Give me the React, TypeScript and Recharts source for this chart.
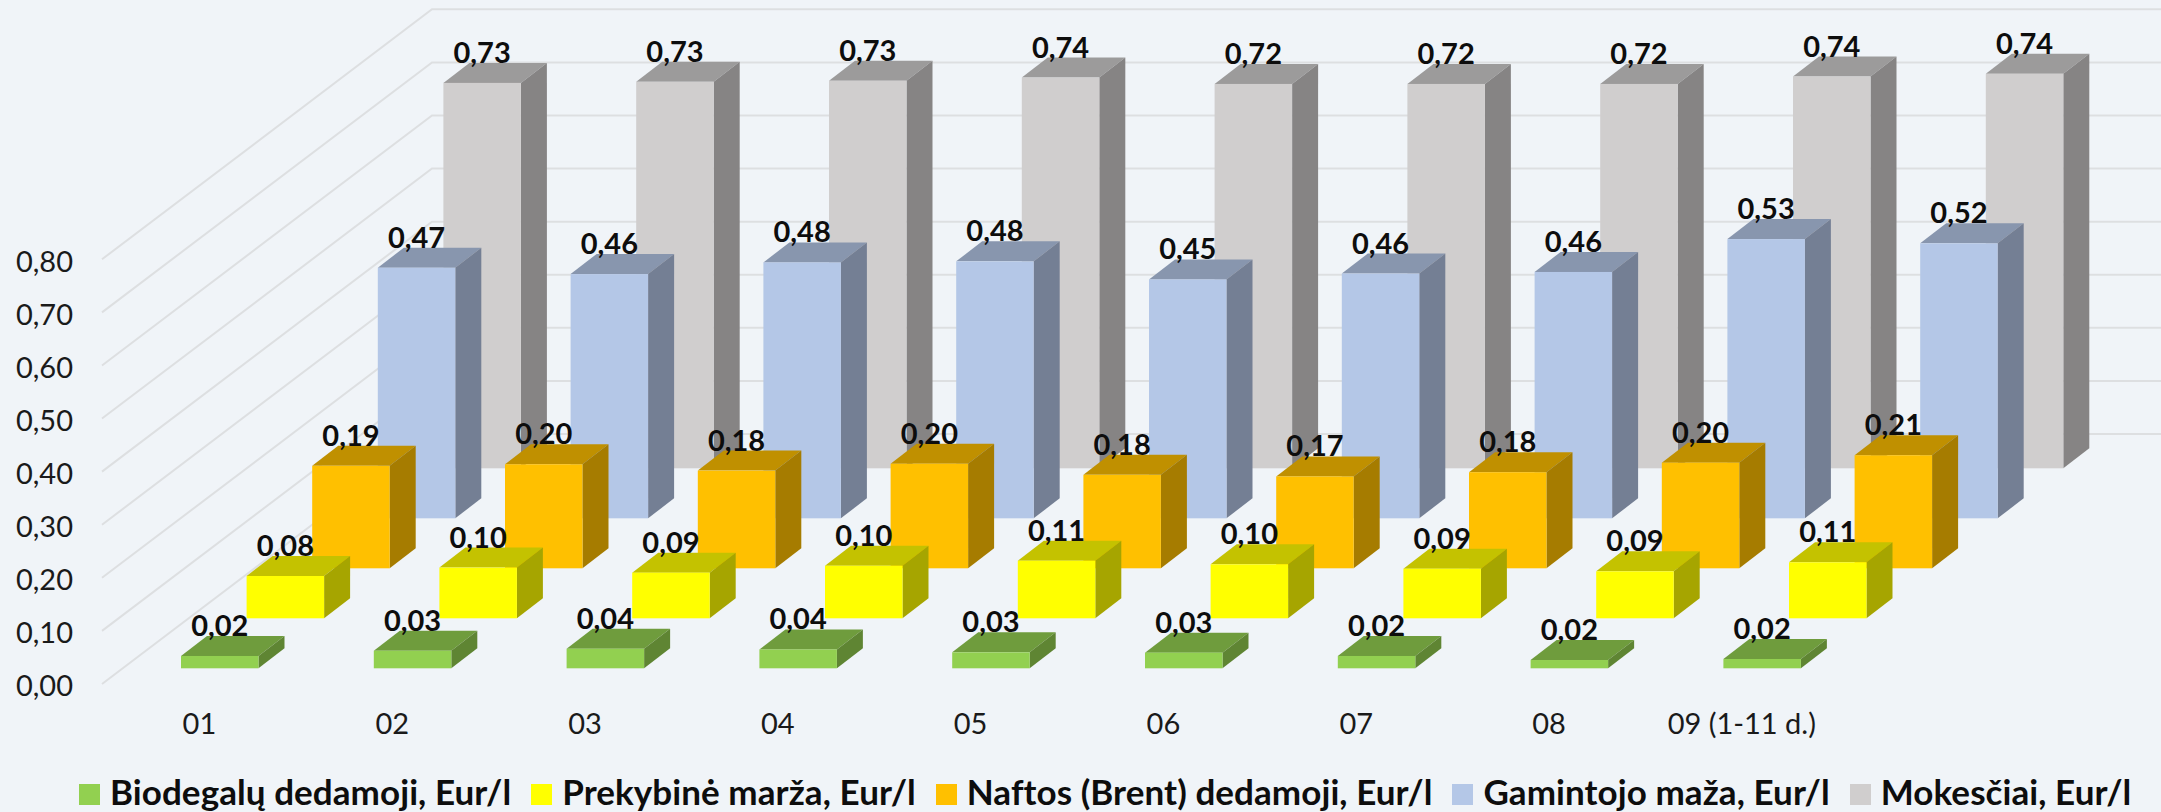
import { BarChart, Bar, XAxis, YAxis, CartesianGrid, LabelList } from 'recharts';

const months = ['01', '02', '03', '04', '05', '06', '07', '08', '09 (1-11 d.)'];
const biodegalai = [0.0232, 0.0331, 0.0369, 0.0355, 0.0301, 0.0294, 0.0232, 0.0156, 0.0175];
const marza = [0.0797, 0.0955, 0.086, 0.099, 0.1085, 0.1017, 0.0934, 0.0885, 0.1055];
const nafta = [0.193, 0.196, 0.184, 0.197, 0.176, 0.173, 0.181, 0.199, 0.213];
const gamintojo = [0.472, 0.46, 0.482, 0.484, 0.45, 0.461, 0.464, 0.526, 0.518];
const mokesciai = [0.726, 0.728, 0.73, 0.736, 0.724, 0.724, 0.724, 0.738, 0.743];
const yTicks = [0, 0.1, 0.2, 0.3, 0.4, 0.5, 0.6, 0.7, 0.8];

const data = months.map((month, i) => ({
  month,
  biodegalai: biodegalai[i],
  marza: marza[i],
  nafta: nafta[i],
  gamintojo: gamintojo[i],
  mokesciai: mokesciai[i],
}));

// front row first, the depth index pushes a series back into the chart
const series = [
  { key: 'biodegalai', name: 'Biodegalų dedamoji, Eur/l', front: '#92D050', top: '#6F9C3D', side: '#5F8533' },
  { key: 'marza', name: 'Prekybinė marža, Eur/l', front: '#FFFF00', top: '#C4C200', side: '#A6A500' },
  { key: 'nafta', name: 'Naftos (Brent) dedamoji, Eur/l', front: '#FFC000', top: '#C09000', side: '#A67C00' },
  { key: 'gamintojo', name: 'Gamintojo maža, Eur/l', front: '#B4C7E7', top: '#8896AE', side: '#747F94' },
  { key: 'mokesciai', name: 'Mokesčiai, Eur/l', front: '#D0CECE', top: '#9C9B9B', side: '#868484' },
];

const BG = '#F0F4F8';
const FONT = 'Lato, sans-serif';
const BOX_DX = 26; // depth of one box
const BOX_DY = 20;
const ROW_DX = 65.6; // shift between rows
const ROW_DY = 50;
const ROW0_DY = 15.7; // front row stands this far above the floor edge
const WALL_DX = 330;
const WALL_DY = 250;

const fmt = (v: number) => v.toFixed(2).replace('.', ',');

function rowShift(depth: number) {
  return { dx: depth * ROW_DX, dy: -ROW0_DY - depth * ROW_DY };
}

function Box(props: any) {
  const { x, y, width, height, depth, colors } = props;
  const { dx, dy } = rowShift(depth);
  const l = x + dx;
  const r = l + width;
  const t = y + dy;
  const b = t + height;
  return (
    <g>
      <polygon points={`${l},${t} ${r},${t} ${r + BOX_DX},${t - BOX_DY} ${l + BOX_DX},${t - BOX_DY}`} fill={colors.top} />
      <polygon points={`${r},${t} ${r + BOX_DX},${t - BOX_DY} ${r + BOX_DX},${b - BOX_DY} ${r},${b}`} fill={colors.side} />
      <rect x={l} y={t} width={width} height={height} fill={colors.front} />
    </g>
  );
}

// each grid line runs along the side wall and then across the back wall
function gridLine(props: any) {
  const { x1, y1, x2 } = props;
  return (
    <polyline
      key={y1}
      points={`${x1},${y1} ${x1 + WALL_DX},${y1 - WALL_DY} ${x2},${y1 - WALL_DY}`}
      fill="none"
      stroke="#DDDFE1"
      strokeWidth={2}
    />
  );
}

function ValueLabel(props: any) {
  const { x, y, width, value, depth } = props;
  const { dx, dy } = rowShift(depth);
  return (
    <text
      x={x + dx + width / 2}
      y={y + dy - 20}
      textAnchor="middle"
      fontFamily={FONT}
      fontWeight={700}
      fontSize={29}
      fill="#0D0D0D"
    >
      {fmt(value)}
    </text>
  );
}

function LegendRow() {
  return (
    <div style={{ position: 'absolute', left: 79, top: 776, height: 36, display: 'flex', alignItems: 'center', whiteSpace: 'nowrap' }}>
      {series.map((s) => (
        <div key={s.key} style={{ display: 'flex', alignItems: 'center', marginRight: 20 }}>
          <span style={{ width: 21, height: 21, background: s.front, marginRight: 10 }} />
          <span style={{ position: 'relative', top: -3, fontFamily: FONT, fontWeight: 700, fontSize: 35, lineHeight: '36px', letterSpacing: 0.07, color: '#0D0D0D' }}>{s.name}</span>
        </div>
      ))}
    </div>
  );
}

export default function App() {
  return (
    <div style={{ position: 'absolute', left: 0, top: 0, width: 2161, height: 812, background: BG, overflow: 'hidden' }}>
      <BarChart
        width={2161}
        height={812}
        data={data}
        margin={{ top: 259.3, right: 0, bottom: 40, left: 0 }}
        barSize={77.5}
        barGap={-77.5}
      >
        <CartesianGrid vertical={false} horizontal={gridLine} />
        <XAxis
          dataKey="month"
          height={88}
          axisLine={false}
          tickLine={false}
          interval={0}
          tickMargin={23}
          padding={{ left: 21, right: 302.8 }}
          tick={{ fontFamily: FONT, fontSize: 29, fill: '#1A1A1A', dx: -20 }}
        />
        <YAxis
          width={102}
          domain={[0, 0.8]}
          ticks={yTicks}
          axisLine={false}
          tickLine={false}
          tickFormatter={fmt}
          tick={{ fontFamily: FONT, fontSize: 29, fill: '#1A1A1A', dx: -21, dy: 2 }}
        />
        {/* back row first so the nearer rows paint over it */}
        {[...series].reverse().map((s) => {
          const depth = series.indexOf(s);
          return (
            <Bar
              key={s.key}
              dataKey={s.key}
              name={s.name}
              isAnimationActive={false}
              shape={(p: any) => <Box {...p} depth={depth} colors={s} />}
            >
              <LabelList dataKey={s.key} content={(p: any) => <ValueLabel {...p} depth={depth} />} />
            </Bar>
          );
        })}
      </BarChart>
      <LegendRow />
    </div>
  );
}
